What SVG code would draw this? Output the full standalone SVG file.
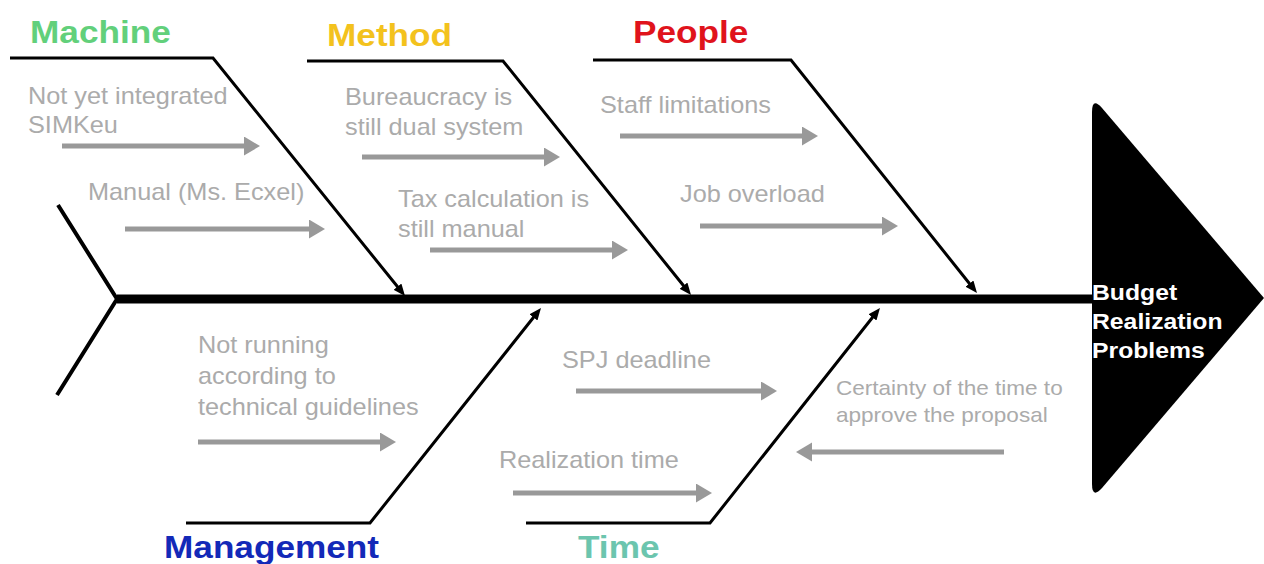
<svg xmlns="http://www.w3.org/2000/svg" width="1264" height="564" viewBox="0 0 1264 564">
<style>
.cause{font-family:"Liberation Sans",Arial,sans-serif;font-size:23px;fill:#ababab}
.cause2{font-family:"Liberation Sans",Arial,sans-serif;font-size:20.5px;fill:#ababab}
.title{font-family:"Liberation Sans",Arial,sans-serif;font-size:32px;font-weight:bold}
.head{font-family:"Liberation Sans",Arial,sans-serif;font-size:22.5px;font-weight:bold;fill:#ffffff}
.bone{stroke:#000;stroke-width:3;fill:none}
.garrow{stroke:#999;stroke-width:5;fill:none}
</style>
<defs>
<marker id="gh" markerUnits="userSpaceOnUse" markerWidth="16" markerHeight="20" refX="4" refY="9.5" orient="auto">
<path d="M0,0 L16,9.5 L0,19 Z" fill="#999"/>
</marker>
<marker id="bh" markerUnits="userSpaceOnUse" markerWidth="12" markerHeight="10" refX="4" refY="5" orient="auto">
<path d="M0,0 L12,5 L0,10 Z" fill="#000"/>
</marker>
</defs>
<rect width="1264" height="564" fill="#ffffff"/>

<g id="connectors">
<line x1="117" y1="299" x2="1095" y2="299" stroke="#000" stroke-width="9"/>
<polyline points="58,205 117,299 57,395" stroke="#000" stroke-width="4" fill="none"/>
<polyline class="bone" points="10,58 213,58 400,289.8" marker-end="url(#bh)"/>
<polyline class="bone" points="307,61 503,61 686,288.8" marker-end="url(#bh)"/>
<polyline class="bone" points="593,60 791,60 972,286.7" marker-end="url(#bh)"/>
<polyline class="bone" points="186,523 370,523 536,314.3" marker-end="url(#bh)"/>
<polyline class="bone" points="526,523 710,523 875,314.3" marker-end="url(#bh)"/>
</g>

<g id="problem">
<path d="M1092,112 Q1092,97 1102,108 L1264,298 L1102,488 Q1092,499 1092,484 Z" fill="#000"/>
<text class="head" transform="translate(1092,300) scale(1.1,1)"><tspan x="0" y="0">Budget</tspan><tspan x="0" y="29">Realization</tspan><tspan x="0" y="58">Problems</tspan></text>
</g>

<g id="machine">
<text class="title" fill="#62d07b" transform="translate(30,43) scale(1.1,1)">Machine</text>
<text class="cause" transform="translate(28,104) scale(1.1,1)"><tspan x="0" y="0">Not yet integrated</tspan><tspan x="0" y="29">SIMKeu</tspan></text>
<line class="garrow" x1="62" y1="146" x2="248" y2="146" marker-end="url(#gh)"/>
<text class="cause" transform="translate(88,200) scale(1.1,1)">Manual (Ms. Ecxel)</text>
<line class="garrow" x1="125" y1="229" x2="313" y2="229" marker-end="url(#gh)"/>
</g>

<g id="method">
<text class="title" fill="#f3c21d" transform="translate(327,46) scale(1.1,1)">Method</text>
<text class="cause" transform="translate(345,105) scale(1.1,1)"><tspan x="0" y="0">Bureaucracy is</tspan><tspan x="0" y="30">still dual system</tspan></text>
<line class="garrow" x1="362" y1="157" x2="548" y2="157" marker-end="url(#gh)"/>
<text class="cause" transform="translate(398,207) scale(1.1,1)"><tspan x="0" y="0">Tax calculation is</tspan><tspan x="0" y="30">still manual</tspan></text>
<line class="garrow" x1="430" y1="250" x2="616" y2="250" marker-end="url(#gh)"/>
</g>

<g id="people">
<text class="title" fill="#e0131c" transform="translate(633,43) scale(1.1,1)">People</text>
<text class="cause" transform="translate(600,113) scale(1.1,1)">Staff limitations</text>
<line class="garrow" x1="620" y1="136" x2="806" y2="136" marker-end="url(#gh)"/>
<text class="cause" transform="translate(680,202) scale(1.1,1)">Job overload</text>
<line class="garrow" x1="700" y1="226" x2="886" y2="226" marker-end="url(#gh)"/>
</g>

<g id="management">
<text class="title" fill="#1329b8" transform="translate(164,558) scale(1.1,1)">Management</text>
<text class="cause" transform="translate(198,353) scale(1.1,1)"><tspan x="0" y="0">Not running</tspan><tspan x="0" y="31">according to</tspan><tspan x="0" y="62">technical guidelines</tspan></text>
<line class="garrow" x1="198" y1="442" x2="384" y2="442" marker-end="url(#gh)"/>
</g>

<g id="time">
<text class="title" fill="#6cc5ae" transform="translate(578,558) scale(1.1,1)">Time</text>
<text class="cause" transform="translate(562,368) scale(1.1,1)">SPJ deadline</text>
<line class="garrow" x1="576" y1="391" x2="765" y2="391" marker-end="url(#gh)"/>
<text class="cause" transform="translate(499,468) scale(1.1,1)">Realization time</text>
<line class="garrow" x1="513" y1="493" x2="700" y2="493" marker-end="url(#gh)"/>
<text class="cause2" transform="translate(836,395) scale(1.1,1)"><tspan x="0" y="0">Certainty of the time to</tspan><tspan x="0" y="27">approve the proposal</tspan></text>
<line class="garrow" x1="1004" y1="452" x2="808" y2="452" marker-end="url(#gh)"/>
</g>
</svg>
